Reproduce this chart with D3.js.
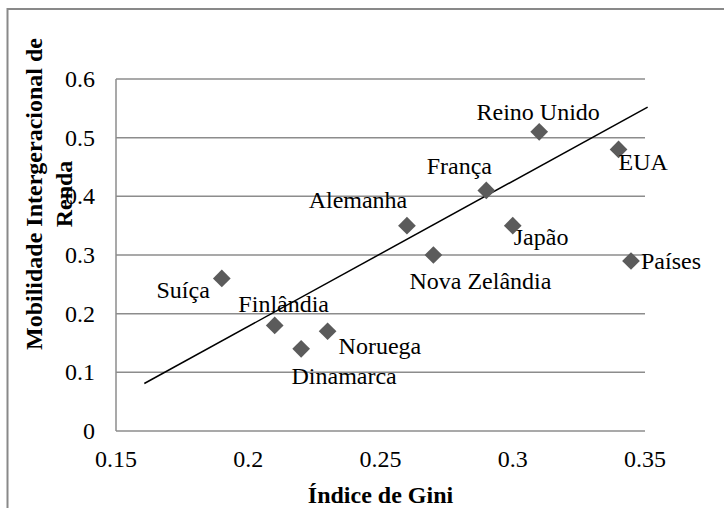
<!DOCTYPE html>
<html>
<head>
<meta charset="utf-8">
<script src="https://cdn.jsdelivr.net/npm/d3@7"></script>
<style>
  body { margin: 0; background: #fff; }
  text { font-family: "Liberation Serif", "Times New Roman", serif; fill: #000; }
</style>
</head>
<body>
<script>
(function(){

	//data
	var countries = ["Suíça", "Finlândia", "Dinamarca", "Noruega", "Alemanha", "Nova Zelândia", "França", "Japão", "Reino Unido", "EUA"];
	var gini = [0.19, 0.21, 0.22, 0.23, 0.26, 0.27, 0.29, 0.30, 0.31, 0.34];
	var mobility = [0.26, 0.18, 0.14, 0.17, 0.35, 0.30, 0.41, 0.35, 0.51, 0.48];

	//linear trend line end points
	var trendX = [0.1607, 0.351];
	var trendY = [0.081, 0.552];

	var xTicks = [0.15, 0.2, 0.25, 0.3, 0.35];
	var yTicks = [0, 0.1, 0.2, 0.3, 0.4, 0.5, 0.6];

	//label placement (anchor, dx, dy from the marker)
	var labelPlace = [
		["end", -12, 12], ["middle", 9, -21], ["middle", 43, 27], ["start", 11, 15],
		["middle", -49, -26], ["middle", 47, 26], ["middle", -27, -24], ["start", 1, 11],
		["middle", -1, -20], ["start", 0, 13]
	];

	var width = 724,
		height = 508;

	var svg = d3.select("body")
		.append("svg")
		.attr("width", width)
		.attr("height", height);

	//outer frame (top and left edges only show)
	svg.append("path")
		.attr("d", "M7.5,508 L7.5,9 L724,9")
		.attr("fill", "none")
		.attr("stroke", "#898989")
		.attr("stroke-width", 2);

	var x = d3.scaleLinear().domain([0.15, 0.35]).range([116, 645]);
	var y = d3.scaleLinear().domain([0, 0.6]).range([431, 79]);

	//gridlines
	svg.selectAll(".grid")
		.data(yTicks)
		.enter()
		.append("line")
		.attr("class", "grid")
		.attr("x1", x(0.15))
		.attr("x2", x(0.35))
		.attr("y1", function(d){ return y(d); })
		.attr("y2", function(d){ return y(d); })
		.attr("stroke", "#8c8c8c")
		.attr("stroke-width", 1.5);

	//y axis line
	svg.append("line")
		.attr("x1", x(0.15)).attr("x2", x(0.15))
		.attr("y1", y(0)).attr("y2", y(0.6))
		.attr("stroke", "#8c8c8c")
		.attr("stroke-width", 1.5);

	//tick labels
	svg.selectAll(".ytick")
		.data(yTicks)
		.enter()
		.append("text")
		.attr("class", "ytick")
		.attr("x", 95)
		.attr("y", function(d){ return y(d); })
		.attr("dy", "0.33em")
		.attr("text-anchor", "end")
		.style("font-size", "24px")
		.text(function(d){ return d3.format("")(d); });

	svg.selectAll(".xtick")
		.data(xTicks)
		.enter()
		.append("text")
		.attr("class", "xtick")
		.attr("x", function(d){ return x(d); })
		.attr("y", 467)
		.attr("text-anchor", "middle")
		.style("font-size", "24px")
		.text(function(d){ return d3.format("")(d); });

	//axis titles
	svg.append("text")
		.attr("x", x(0.25))
		.attr("y", 503)
		.attr("text-anchor", "middle")
		.style("font-size", "24px")
		.style("font-weight", "bold")
		.text("Índice de Gini");

	var yTitle = svg.append("text")
		.attr("transform", "translate(42,194) rotate(-90)")
		.attr("text-anchor", "middle")
		.style("font-size", "24px")
		.style("font-weight", "bold");
	yTitle.append("tspan").attr("x", 0).attr("y", 0).text("Mobilidade Intergeracional de");
	yTitle.append("tspan").attr("x", 0).attr("y", 30).text("Renda");

	//trend line
	svg.append("line")
		.attr("x1", x(trendX[0])).attr("y1", y(trendY[0]))
		.attr("x2", x(trendX[1])).attr("y2", y(trendY[1]))
		.attr("stroke", "#000")
		.attr("stroke-width", 1.5);

	var diamond = d3.symbol().type(d3.symbolDiamond2).size(200);

	//points
	svg.selectAll(".pt")
		.data(countries)
		.enter()
		.append("path")
		.attr("class", "pt")
		.attr("d", diamond)
		.attr("transform", function(d, i){
			return "translate(" + x(gini[i]) + "," + y(mobility[i]) + ")";
		})
		.attr("fill", "#5b5b5b");

	//data labels
	svg.selectAll(".lbl")
		.data(countries)
		.enter()
		.append("text")
		.attr("class", "lbl")
		.attr("x", function(d, i){ return x(gini[i]) + labelPlace[i][1]; })
		.attr("y", function(d, i){ return y(mobility[i]) + labelPlace[i][2]; })
		.attr("dy", "0.33em")
		.attr("text-anchor", function(d, i){ return labelPlace[i][0]; })
		.style("font-size", "24px")
		.text(function(d){ return d; });

	//legend
	svg.append("path")
		.attr("d", diamond)
		.attr("transform", "translate(631,261)")
		.attr("fill", "#5b5b5b");
	svg.append("text")
		.attr("x", 641)
		.attr("y", 261)
		.attr("dy", "0.33em")
		.style("font-size", "24px")
		.text("Países");

})();
</script>
</body>
</html>
